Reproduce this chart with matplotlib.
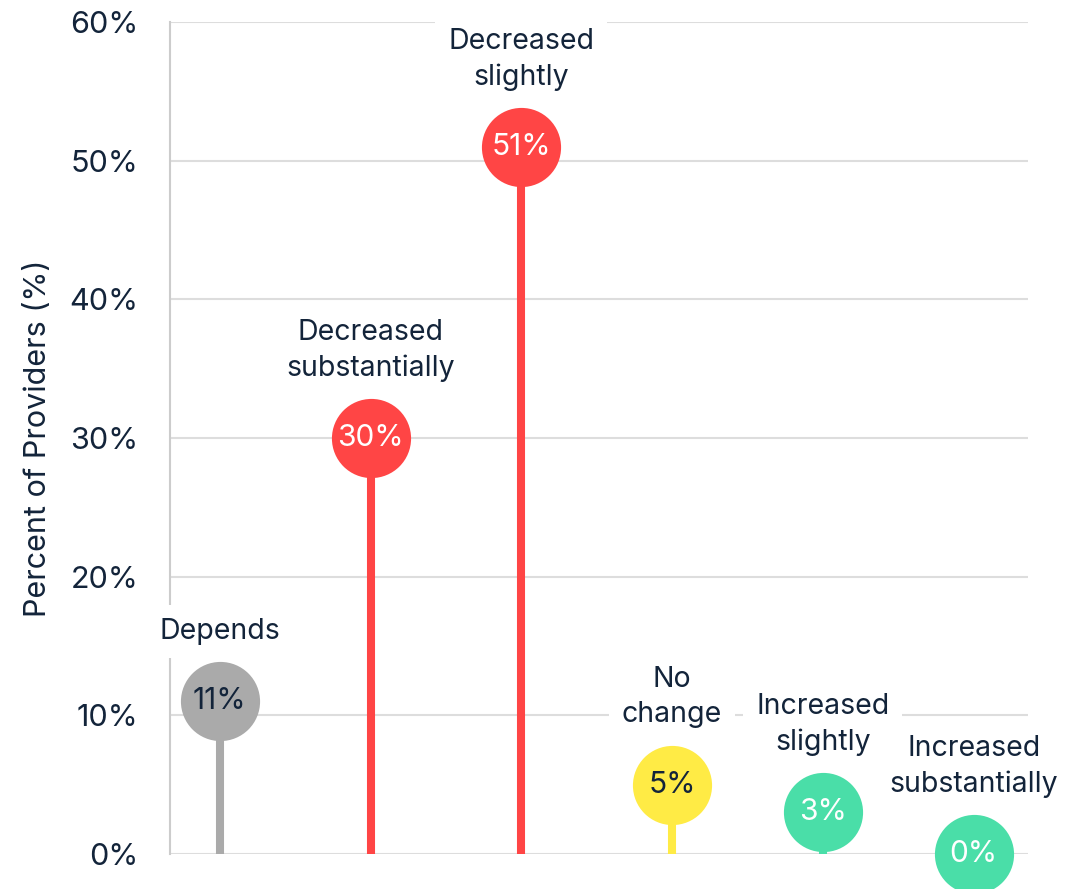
import matplotlib
matplotlib.use("Agg")
import matplotlib.pyplot as plt
from matplotlib.ticker import FuncFormatter

# ===== Data =====
categories = ["Depends", "Decreased\nsubstantially", "Decreased\nslightly",
              "No\nchange", "Increased\nslightly", "Increased\nsubstantially"]
values = [11, 30, 51, 5, 3, 0]
colors = ["#AAAAAA", "#FF4545", "#FF4545", "#FFEB45", "#4ADEA8", "#4ADEA8"]
value_text_colors = ["#13243A", "white", "white", "#13243A", "white", "white"]

text_color = "#13243A"
plt.rcParams['font.family'] = ['Inter', 'DejaVu Sans']

fig = plt.figure(figsize=(10.77, 8.89), dpi=100)
ax = fig.add_axes([0.1578, 0.0394, 0.7967, 0.9359])

x = list(range(len(categories)))

# stems
ax.vlines(x, 0, values, colors=colors, linewidth=5.8, zorder=2)
# heads
for xi, v, c, tc in zip(x, values, colors, value_text_colors):
    ax.plot(xi, v, 'o', markersize=57, color=c, markeredgewidth=0,
            zorder=3, clip_on=False)
    ax.text(xi, v, f"{v}%", ha='center', va='center', fontsize=21.5,
            color=tc, zorder=4)

# category labels above heads
for xi, v, lab in zip(x, values, categories):
    ax.annotate(lab, (xi, v), xytext=(0, 40.5), textcoords='offset points',
                ha='center', va='bottom', fontsize=20.5, color=text_color,
                linespacing=1.38, zorder=4,
                bbox=dict(boxstyle='square,pad=0.45', fc='white', ec='none'))

ax.set_xlim(-0.33, 5.36)
ax.set_ylim(0, 60)
ax.set_yticks(range(0, 61, 10))
ax.yaxis.set_major_formatter(FuncFormatter(lambda v, p: f"{v:.0f}%"))
ax.tick_params(axis='y', length=0, pad=23, labelsize=22, labelcolor=text_color)
ax.set_xticks([])
ax.grid(axis='y', color='#DDDDDD', linewidth=1.5, zorder=0)
ax.set_axisbelow(True)

for s in ['top', 'right', 'bottom']:
    ax.spines[s].set_visible(False)
ax.spines['left'].set_color('#CCCCCC')
ax.spines['left'].set_linewidth(1.5)

ax.set_ylabel("Percent of Providers (%)", fontsize=22, color=text_color, labelpad=12)

fig.savefig("out.png", dpi=100)
